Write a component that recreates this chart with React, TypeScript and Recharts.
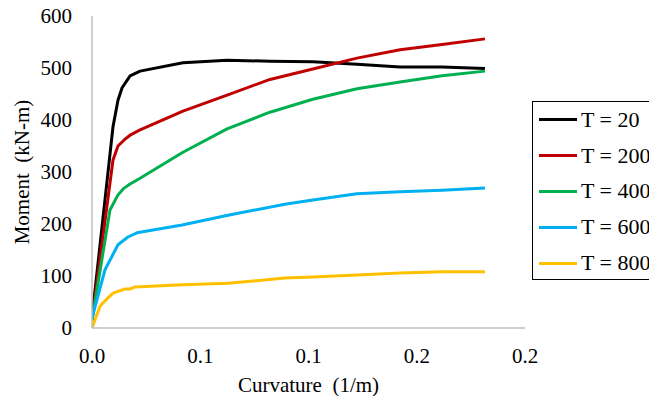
import React from 'react';
import { LineChart, Line, XAxis, YAxis, Legend } from 'recharts';

// curvature (1/m) and moment (kN-m), one pair of arrays per temperature
const curvatureT20 = [0, 0.0097, 0.012, 0.0139, 0.0176, 0.0222, 0.042, 0.0624, 0.0822, 0.102, 0.1224, 0.1423, 0.1617, 0.1815];
const momentT20 = [19, 387, 438, 462, 485, 494, 510, 515, 513, 512, 507, 502, 502, 499];

const curvatureT200 = [0, 0.0097, 0.012, 0.0152, 0.018, 0.0222, 0.042, 0.0624, 0.0822, 0.102, 0.1224, 0.1423, 0.1617, 0.1815];
const momentT200 = [15, 323, 350, 363, 372, 381, 417, 448, 478, 498, 519, 535, 545, 556];

const curvatureT400 = [0, 0.0083, 0.012, 0.0148, 0.0176, 0.0222, 0.042, 0.0624, 0.0822, 0.102, 0.1224, 0.1423, 0.1617, 0.1815];
const momentT400 = [15, 227, 256, 269, 277, 288, 338, 383, 415, 440, 460, 473, 485, 494];

const curvatureT600 = [0, 0.006, 0.012, 0.0166, 0.0208, 0.0416, 0.0628, 0.0891, 0.102, 0.1224, 0.1423, 0.1617, 0.1815];
const momentT600 = [19, 112, 160, 175, 183, 198, 217, 238, 246, 258, 262, 265, 269];

const curvatureT800 = [0, 0.0037, 0.0055, 0.0074, 0.0097, 0.0152, 0.0176, 0.0199, 0.0416, 0.0628, 0.0891, 0.102, 0.1224, 0.1423, 0.1617, 0.1815];
const momentT800 = [0, 42, 50, 58, 67, 75, 75, 79, 83, 86, 96, 98, 102, 106, 108, 108];

const seriesNames = ['T = 20', 'T = 200', 'T = 400', 'T = 600', 'T = 800'];
const COLORS = ['#000000', '#C00000', '#00B050', '#00B0F0', '#FFC000'];

const xTicks = [0, 0.05, 0.1, 0.15, 0.2];
const xTickLabels = ['0.0', '0.1', '0.1', '0.2', '0.2'];
const yTicks = [0, 100, 200, 300, 400, 500, 600];

const curvatures = [curvatureT20, curvatureT200, curvatureT400, curvatureT600, curvatureT800];
const moments = [momentT20, momentT200, momentT400, momentT600, momentT800];

const series = seriesNames.map((name, i) => ({
    name,
    color: COLORS[i],
    data: curvatures[i].map((c, j) => ({ c, m: moments[i][j] })),
}));

const FONT = 'Liberation Serif';
const BORDER = '#BFBFBF';
const tickStyle = { fill: '#000', fontSize: 21, fontFamily: FONT, style: { fontFamily: FONT } };

const LegendBox: React.FC<any> = ({ payload }) => (
    <div style={{ border: '1.5px solid #000', height: '100%', boxSizing: 'border-box', background: '#fff' }}>
        {(payload || []).map((entry: any) => (
            <div key={entry.value} style={{ display: 'flex', alignItems: 'center', height: 35.8 }}>
                <div style={{ marginLeft: 6, width: 38, height: 3, background: entry.color }} />
                <span style={{ marginLeft: 4, fontFamily: FONT, fontSize: 22, color: '#000', whiteSpace: 'nowrap' }}>
                    {entry.value}
                </span>
            </div>
        ))}
    </div>
);

export default function App() {
    return (
        <div style={{ position: 'absolute', left: 0, top: 0, width: 649, height: 396, overflow: 'hidden', background: '#fff', fontFamily: FONT }}>
            <LineChart width={649} height={396} margin={{ top: 16, right: 124, bottom: 0, left: 0 }} style={{ fontFamily: FONT }}>
                <XAxis
                    type="number"
                    dataKey="c"
                    domain={[0, 0.2]}
                    ticks={xTicks}
                    tickFormatter={(v: number, i: number) => xTickLabels[i] ?? String(v)}
                    height={68}
                    axisLine={{ stroke: BORDER, strokeWidth: 1.5 }}
                    tickLine={false}
                    tickSize={0}
                    tickMargin={20}
                    tick={tickStyle}
                    allowDataOverflow
                    label={{ value: 'Curvature\u00A0 (1/m)', position: 'insideBottom', offset: 4, fill: '#000', fontSize: 21, fontFamily: FONT }}
                />
                <XAxis xAxisId="top" orientation="top" type="number" dataKey="c" domain={[0, 0.2]} height={0} tick={false} tickLine={false} axisLine={{ stroke: BORDER, strokeWidth: 1.5 }} />
                <YAxis
                    type="number"
                    domain={[0, 600]}
                    ticks={yTicks}
                    width={92}
                    axisLine={{ stroke: BORDER, strokeWidth: 1.5 }}
                    tickLine={false}
                    tickSize={0}
                    tickMargin={20}
                    tick={tickStyle}
                    label={{ value: 'Moment\u00A0 (kN-m)', angle: -90, position: 'insideLeft', offset: 22, fill: '#000', fontSize: 21, fontFamily: FONT, style: { textAnchor: 'middle' } }}
                />
                <YAxis yAxisId="right" orientation="right" domain={[0, 600]} width={0} tick={false} tickLine={false} axisLine={{ stroke: BORDER, strokeWidth: 1.5 }} />
                <Legend
                    layout="vertical"
                    align="center"
                    verticalAlign="middle"
                    content={<LegendBox />}
                    wrapperStyle={{ position: 'absolute', left: 532, top: 101, width: 150, height: 179, right: 'auto', bottom: 'auto' }}
                />
                {series.map((s) => (
                    <Line
                        key={s.name}
                        name={s.name}
                        data={s.data}
                        dataKey="m"
                        type="linear"
                        stroke={s.color}
                        strokeWidth={3}
                        strokeLinejoin="round"
                        dot={false}
                        activeDot={false}
                        isAnimationActive={false}
                    />
                ))}
            </LineChart>
        </div>
    );
}
